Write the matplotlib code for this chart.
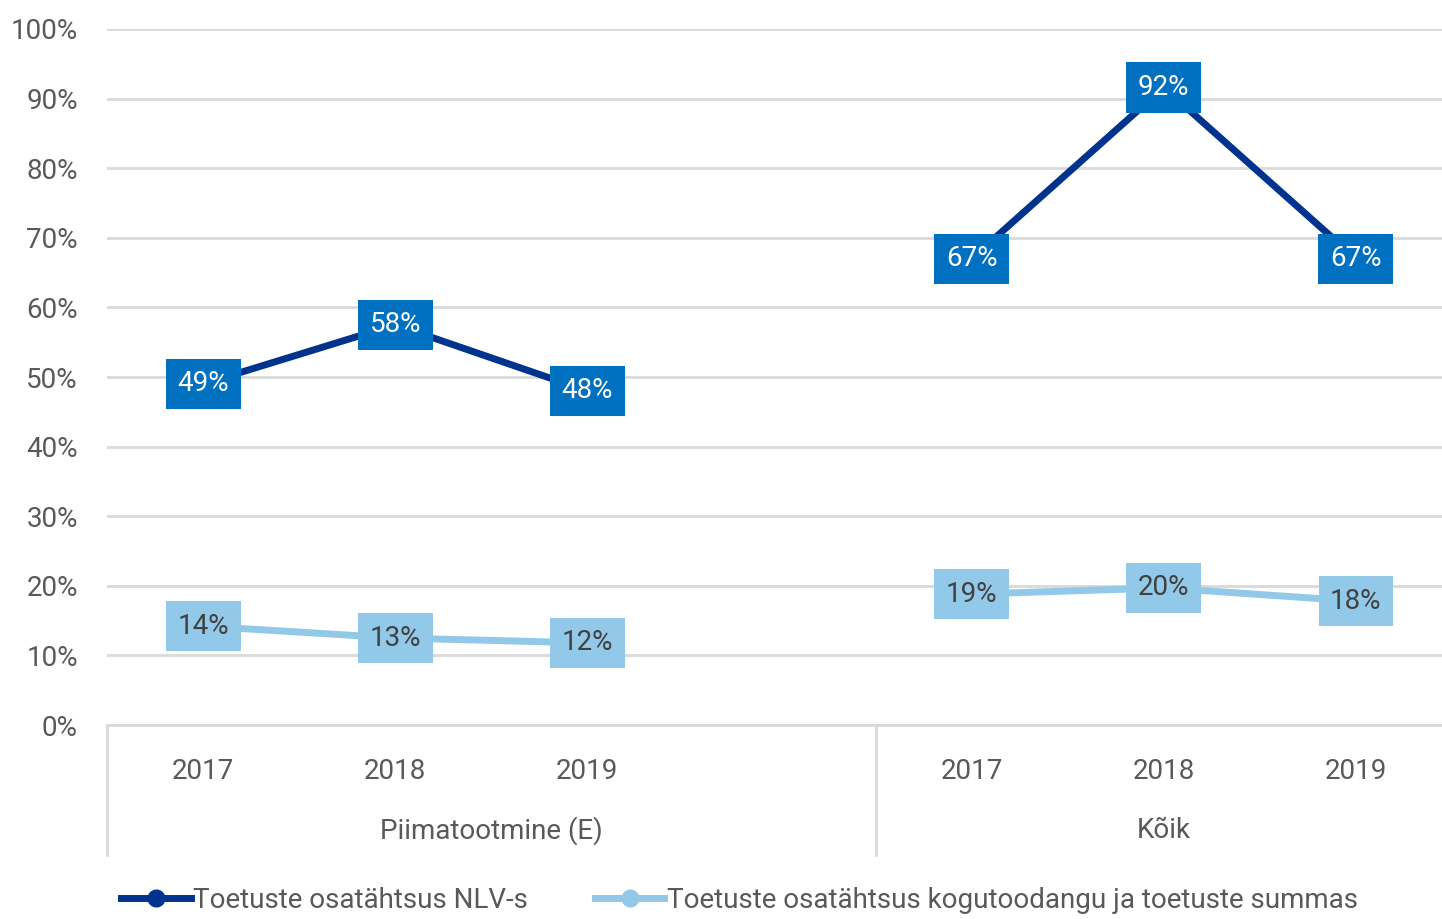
import numpy as np
import matplotlib.pyplot as plt
from matplotlib import font_manager

# font: condensed look if available
names = {f.name for f in font_manager.fontManager.ttflist}
fam = 'Liberation Sans Narrow' if 'Liberation Sans Narrow' in names else 'Roboto'
plt.rcParams['font.family'] = [fam, 'DejaVu Sans']

# data
years = ['2017', '2018', '2019', '', '2017', '2018', '2019']
groups = ['Piimatootmine (E)', 'Kõik']
nlv = [49, 57.5, 48, np.nan, 67, 91.6, 67]
kogu = [14.2, 12.5, 11.8, np.nan, 18.8, 19.7, 17.8]
nlv_labels = ['49%', '58%', '48%', '', '67%', '92%', '67%']
kogu_labels = ['14%', '13%', '12%', '', '19%', '20%', '18%']
series_names = ['Toetuste osatähtsus NLV-s',
                'Toetuste osatähtsus kogutoodangu ja toetuste summas']

dark_line = '#00338d'
dark_box = '#0070c0'
light = '#92c9e8'
txt = '#595959'
grid = '#d9d9d9'

fig = plt.figure(figsize=(14.42, 9.19), dpi=100)
ax = fig.add_axes([107 / 1442, 1 - 725 / 919, (1452 - 107) / 1442, (725 - 29) / 919])

x = np.arange(len(years))
ax.plot(x, nlv, color=dark_line, lw=5, marker='o', ms=12, label=series_names[0], zorder=3)
ax.plot(x, kogu, color=light, lw=5, marker='o', ms=12, label=series_names[1], zorder=3)

for xi, v, lab in zip(x, nlv, nlv_labels):
    if lab:
        ax.text(xi, v, lab, ha='center', va='center', fontsize=20, color='white', zorder=5,
                bbox=dict(boxstyle='square,pad=0.42', fc=dark_box, ec='none'))
for xi, v, lab in zip(x, kogu, kogu_labels):
    if lab:
        ax.text(xi, v, lab, ha='center', va='center', fontsize=20, color='#404040', zorder=5,
                bbox=dict(boxstyle='square,pad=0.42', fc=light, ec='none'))

ax.set_xlim(-0.5, 6.5)
ax.set_ylim(0, 100)
ax.set_yticks(range(0, 101, 10))
ax.set_yticklabels([f'{v}%' for v in range(0, 101, 10)], fontsize=20, color=txt)
ax.yaxis.grid(True, color=grid, lw=2)
ax.set_axisbelow(True)
ax.tick_params(axis='y', length=0, pad=21)
ax.set_xticks(x)
ax.set_xticklabels(years, fontsize=20, color=txt)
ax.tick_params(axis='x', length=0, pad=24)
for s in ['left', 'right', 'top']:
    ax.spines[s].set_visible(False)
ax.spines['bottom'].set_color(grid)
ax.spines['bottom'].set_linewidth(2)

# group separators and group labels
tr = ax.get_xaxis_transform()
for b in [-0.5, 3.5]:
    ax.plot([b, b], [0, -0.187], color=grid, lw=2, transform=tr, clip_on=False)
ax.text(1.5, -0.152, groups[0], transform=tr, ha='center', va='center', fontsize=20, color=txt)
ax.text(5, -0.152, groups[1], transform=tr, ha='center', va='center', fontsize=20, color=txt)

leg = fig.legend(loc='center left', bbox_to_anchor=(0.084, 1 - 900 / 919), ncol=2, frameon=False,
                 fontsize=20, handlelength=2.5, handletextpad=0.1, columnspacing=2.4,
                 borderaxespad=0, borderpad=0)
for t in leg.get_texts():
    t.set_color(txt)

fig.savefig('out.png', dpi=100)
